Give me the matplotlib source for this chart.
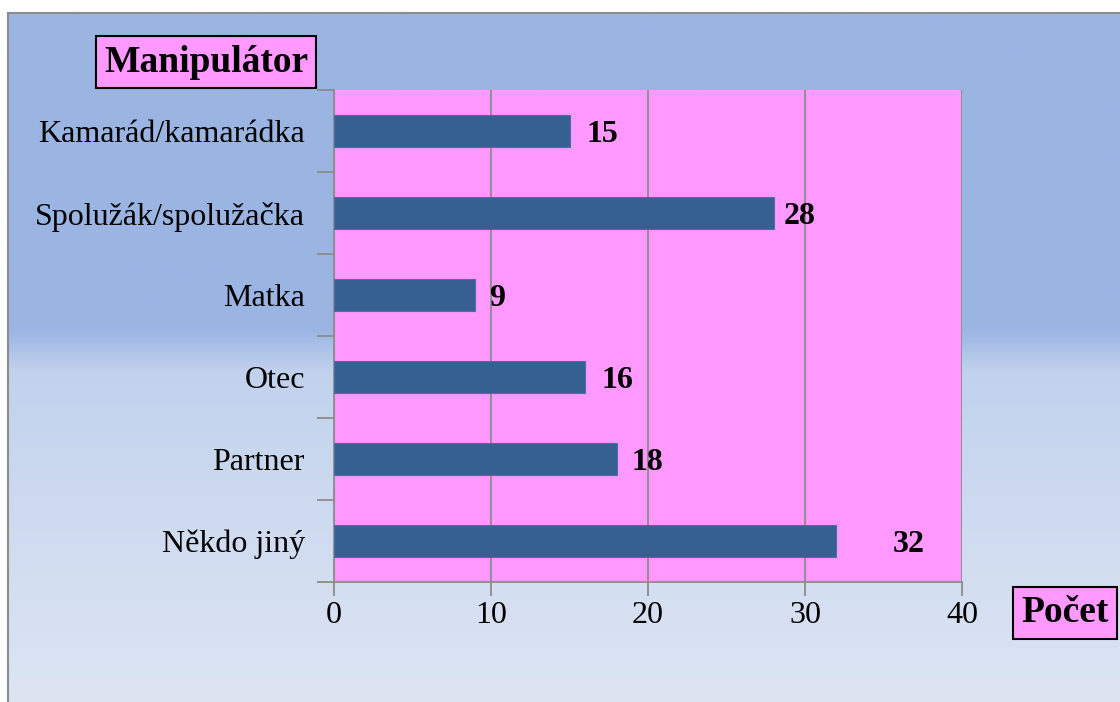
import numpy as np
import matplotlib.pyplot as plt
import matplotlib.colors as mcolors

categories = ['Kamarád/kamarádka', 'Spolužák/spolužačka', 'Matka', 'Otec', 'Partner', 'Někdo jiný']
counts = [15, 28, 9, 16, 18, 32]
x_ticks = [0, 10, 20, 30, 40]
label_pad_px = [17, 10, 14, 16, 15, 56]   # gap between bar end and value label

plt.rcParams['font.family'] = ['Liberation Serif', 'DejaVu Serif']

fig = plt.figure(figsize=(11.2, 7.02), dpi=100, facecolor='white')
W, H = 1120, 702

# background frame with gradient
bg = fig.add_axes([8 / W, 0, 1 - 8 / W, 1 - 13 / H], zorder=0)
rows = np.linspace(0, 1, 400)
top = np.array(mcolors.to_rgb('#9bb5e3'))
mid = np.array(mcolors.to_rgb('#c2d2ed'))
bot = np.array(mcolors.to_rgb('#dde5f3'))
stops = [0.0, 0.46, 0.52, 1.0]
grad = np.zeros((400, 1, 3))
for c in range(3):
    grad[:, 0, c] = np.interp(rows, stops, [top[c], top[c], mid[c], bot[c]])
bg.imshow(grad, aspect='auto', extent=[0, 1, 1, 0])
bg.set_xlim(0, 1)
bg.set_ylim(1, 0)
bg.set_xticks([])
bg.set_yticks([])
for s in ['right', 'bottom']:
    bg.spines[s].set_visible(False)
for s in ['left', 'top']:
    bg.spines[s].set_color('#8c8c8c')
    bg.spines[s].set_linewidth(1.5)

ax = fig.add_axes([334 / W, 1 - 582 / H, (962 - 334) / W, (582 - 90) / H], zorder=1)
ax.set_facecolor('#ff99ff')

y = np.arange(len(categories))
ax.barh(y, counts, height=0.39, color='#366092', edgecolor='#4a6fa5', linewidth=0.8, zorder=3)
ax.set_xlim(0, 40)
ax.set_ylim(len(categories) - 0.5, -0.5)

ax.set_xticks(x_ticks)
ax.set_xticklabels([str(t) for t in x_ticks], fontsize=23)
ax.tick_params(axis='x', direction='out', length=10, width=1.3, color='#8c8c8c', pad=4)

ax.set_yticks(np.arange(len(categories) + 1) - 0.5)
ax.set_yticklabels([])
ax.set_yticks(y, minor=True)
ax.set_yticklabels(categories, minor=True, fontsize=23)
ax.tick_params(axis='y', which='major', direction='out', length=12, width=1.3, color='#8c8c8c')
ax.tick_params(axis='y', which='minor', length=0, pad=21)

ax.grid(axis='x', color='#8c8c8c', linewidth=1.3, zorder=1)
ax.set_axisbelow(True)
for s in ['top', 'right']:
    ax.spines[s].set_visible(False)
for s in ['left', 'bottom']:
    ax.spines[s].set_color('#8c8c8c')
    ax.spines[s].set_linewidth(1.3)

for yi, v, p in zip(y, counts, label_pad_px):
    ax.annotate(str(v), xy=(v, yi), xytext=(p * 0.72, -2.5), textcoords='offset points',
                ha='left', va='center', fontsize=23, fontweight='bold', zorder=4)

box = dict(boxstyle='square,pad=0.22', facecolor='#ff99ff', edgecolor='black', linewidth=1.5)
fig.text(206 / W, 1 - 62 / H, 'Manipulátor', ha='center', va='center', fontsize=27,
         fontweight='bold', bbox=box, zorder=5)
fig.text(1065 / W, 1 - 613 / H, 'Počet', ha='center', va='center', fontsize=27,
         fontweight='bold', bbox=box, zorder=5)

fig.savefig('out.png', dpi=100, facecolor='white')
